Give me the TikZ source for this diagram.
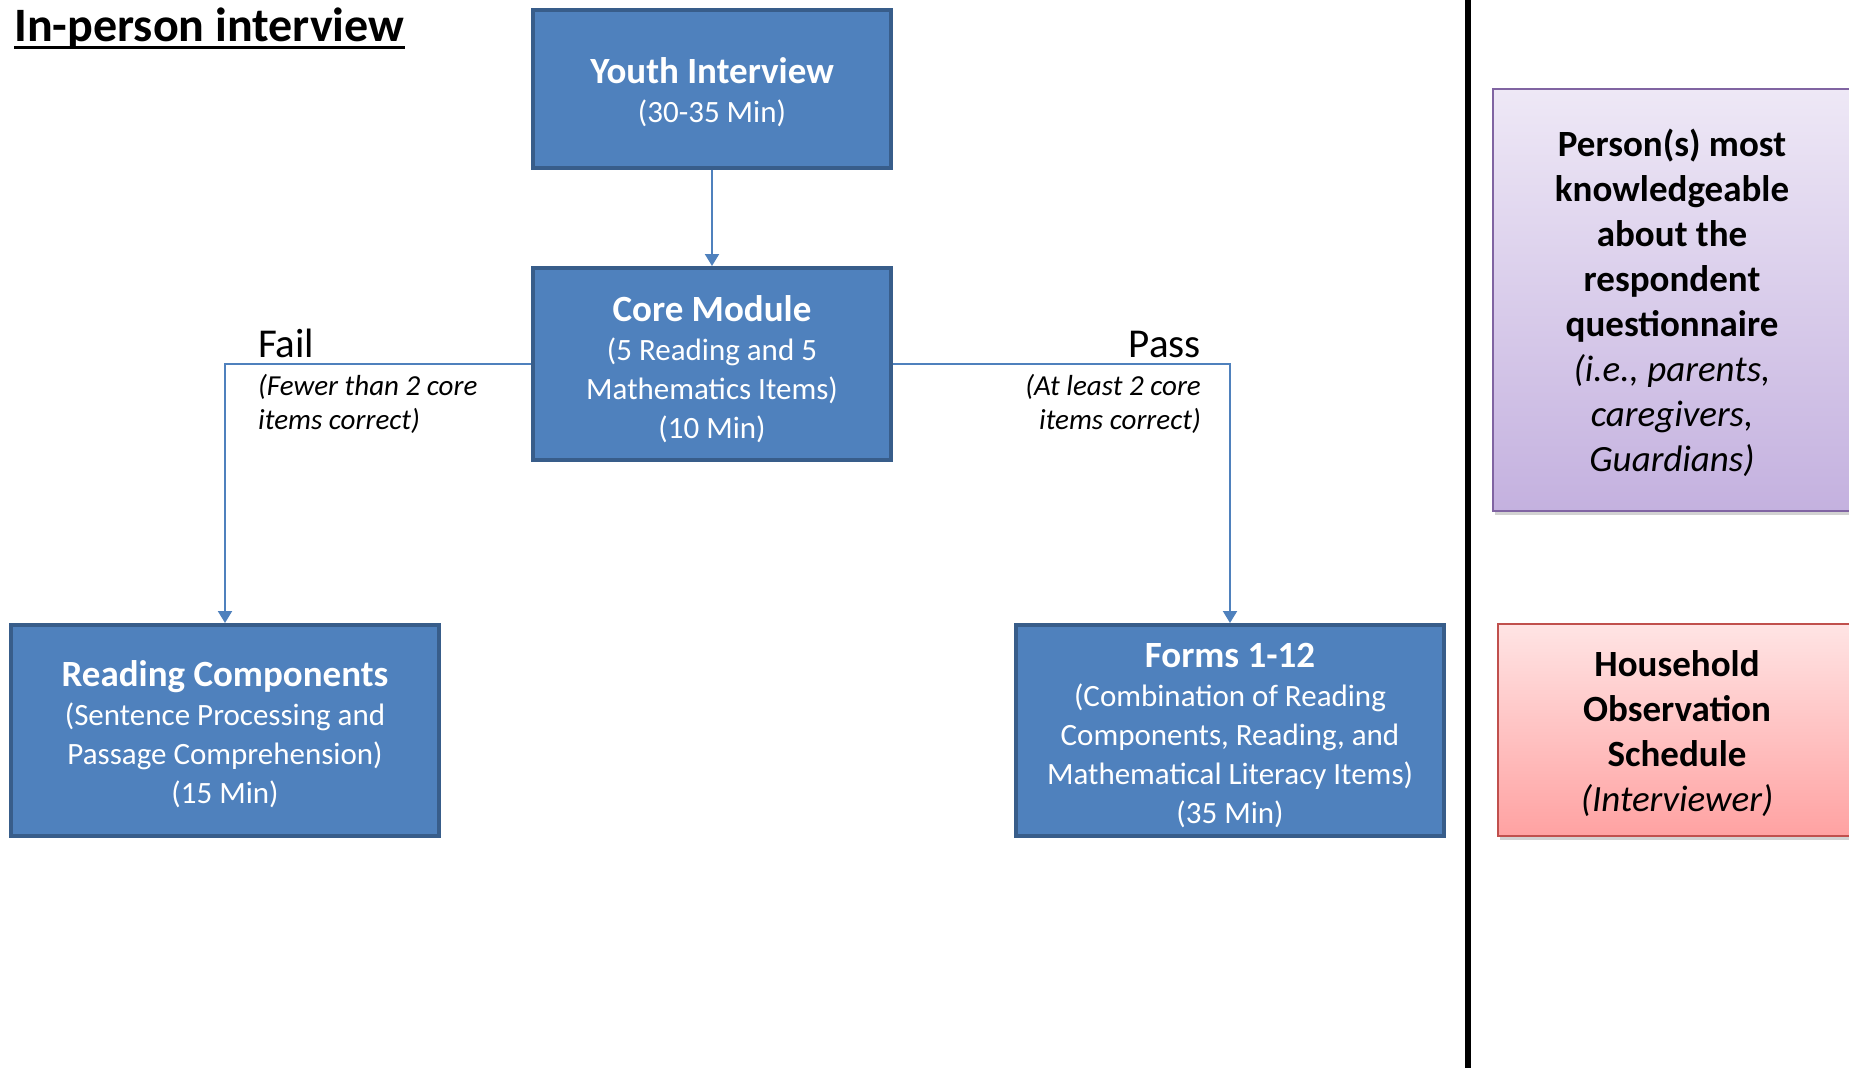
\documentclass[tikz,border=0pt]{standalone}
\usepackage{fontspec}
\setmainfont{Carlito}
\usetikzlibrary{arrows.meta,shadows}
\definecolor{boxfill}{HTML}{4F81BD}
\definecolor{boxline}{HTML}{385D8A}
\definecolor{connc}{HTML}{4F81BD}
\definecolor{purtop}{HTML}{EEE8F6}
\definecolor{purbot}{HTML}{C4B1DF}
\definecolor{purline}{HTML}{8064A2}
\definecolor{redtop}{HTML}{FFE4E4}
\definecolor{redbot}{HTML}{FFA2A2}
\definecolor{redline}{HTML}{C0504D}
\tikzset{
  bluebox/.style={draw=boxline, line width=4pt, fill=boxfill, inner sep=0pt},
  bluetext/.style={text=white, align=center, inner sep=0pt,
    font=\fontsize{31}{39}\selectfont},
  conn/.style={draw=connc, line width=2pt, -{Triangle[width=14pt,length=12pt]}},
  sidebox/.style={line width=2pt, inner sep=0pt,
    drop shadow={opacity=0.35, shadow xshift=2pt, shadow yshift=-4pt}},
  sidetext/.style={align=center, text=black, inner sep=0pt,
    font=\fontsize{37}{45}\selectfont},
  lbl/.style={inner sep=0pt, font=\fontsize{41}{49}\selectfont},
  note/.style={inner sep=0pt, font=\fontsize{29}{35}\selectfont\itshape}
}
\newcommand{\ttl}[1]{{\fontsize{37}{39}\selectfont\bfseries #1}}
\begin{document}
\begin{tikzpicture}[x=1pt,y=-1pt]
\useasboundingbox (0,0) rectangle (1849,1068);
\clip (0,0) rectangle (1849,1068);
\fill[white] (0,0) rectangle (1849,1068);

\node[inner sep=0pt, anchor=base west, font=\fontsize{48}{52}\selectfont\bfseries] (title) at (14,41) {In-person interview};
\draw[line width=3pt, black] ([yshift=-6pt]title.base west) -- ([yshift=-6pt]title.base east);

\node[bluebox, minimum width=358pt, minimum height=158pt] (youth) at (712,89) {};
\node[bluetext] (youthtxt) at (712,92) {\ttl{Youth Interview}\\ (30-35 Min)};
\node[bluebox, minimum width=358pt, minimum height=192pt] (core) at (712,364) {};
\node[bluetext] (coretxt) at (712,369) {\ttl{Core Module}\\ (5 Reading and 5\\ Mathematics Items)\\ (10 Min)};
\node[bluebox, minimum width=428pt, minimum height=211pt] (reading) at (225,730.5) {};
\node[bluetext] (readingtxt) at (225,734.5) {\ttl{Reading Components}\\ (Sentence Processing and\\ Passage Comprehension)\\ (15 Min)};
\node[bluebox, minimum width=428pt, minimum height=211pt] (forms) at (1230,730.5) {};
\node[bluetext] (formstxt) at (1230,735.5) {\ttl{Forms 1-12}\\ (Combination of Reading\\ Components, Reading, and\\ Mathematical Literacy Items)\\ (35 Min)};

\draw[conn] (youth.south) -- (core.north);
\draw[conn] (core.west) -| (reading.north);
\draw[conn] (core.east) -| (forms.north);

\node[lbl, anchor=base west] (fail) at (258,357) {Fail};
\node[note, anchor=base west] (failA) at (258,395) {(Fewer than 2 core};
\node[note, anchor=base west] (failB) at (258,429) {items correct)};
\node[lbl, anchor=base east] (pass) at (1201,357) {Pass};
\node[note, anchor=base east] (passA) at (1201,395) {(At least 2 core};
\node[note, anchor=base east] (passB) at (1201,429) {items correct)};

\coordinate (divtop) at (1468,0);
\coordinate (divbot) at (1468,1068);
\draw[line width=6pt, black] (divtop) -- (divbot);

\node[sidebox, draw=purline, top color=purtop, bottom color=purbot,
  minimum width=358pt, minimum height=422pt] (pmk) at (1672,300) {};
\node[sidetext] (pmktxt) at (1672,303)
  {\bfseries Person(s) most\\ \bfseries knowledgeable\\ \bfseries about the\\ \bfseries respondent\\ \bfseries questionnaire\\ \itshape (i.e., parents,\\ \itshape caregivers,\\ \itshape Guardians)};
\node[sidebox, draw=redline, top color=redtop, bottom color=redbot,
  minimum width=358pt, minimum height=212pt] (hos) at (1677,730) {};
\node[sidetext] (hostxt) at (1677,734)
  {\bfseries Household\\ \bfseries Observation\\ \bfseries Schedule\\ \itshape (Interviewer)};
\end{tikzpicture}
\end{document}
